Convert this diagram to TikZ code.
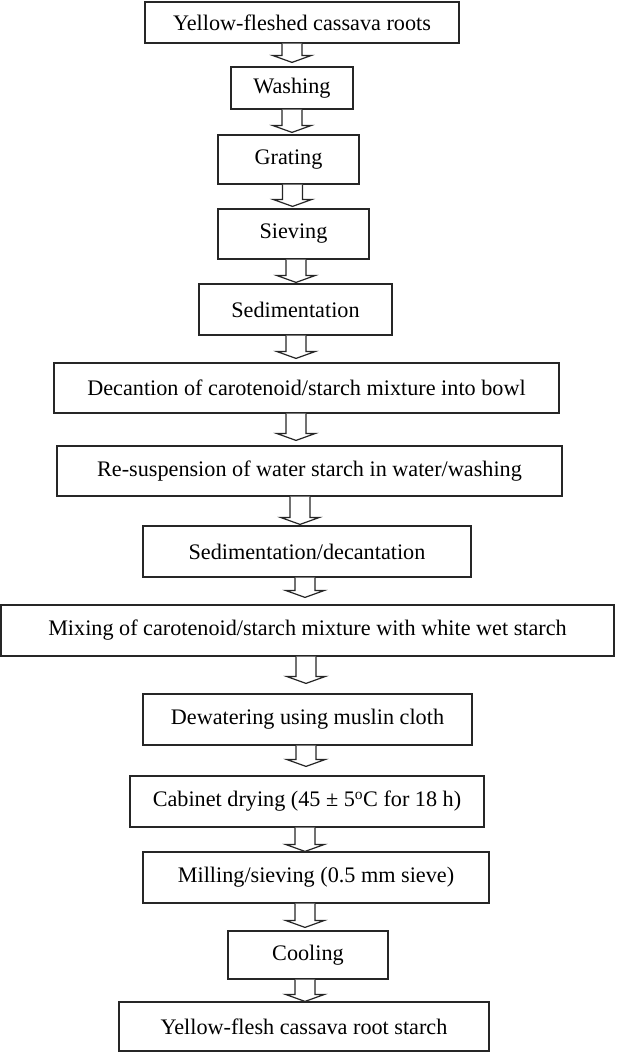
\documentclass[tikz,border=0pt]{standalone}
\usepackage{fontspec}
\setmainfont{Liberation Serif}
\usetikzlibrary{calc}
\tikzset{
  box/.style={draw=black!85, line width=1.2pt, rectangle, inner sep=0pt, font=\fontsize{22.2}{25}\selectfont, text=black},
  blockarr/.style={draw=black!85, line width=1.2pt, fill=white, line join=miter},
}
% #1 upper node, #2 lower node, #3 x centre (pt), #4 gap between tip and lower node (pt)
\newcommand\blockarrow[4]{%
  \draw[blockarr] let \p1=(#1.south), \p2=(#2.north) in
    ({#3pt-10pt},{\y1}) -- ({#3pt-10pt},{\y2+#4pt+7pt}) -- ({#3pt-19.5pt},{\y2+#4pt+7pt})
    -- ({#3pt},{\y2+#4pt}) -- ({#3pt+19.5pt},{\y2+#4pt+7pt}) -- ({#3pt+10pt},{\y2+#4pt+7pt})
    -- ({#3pt+10pt},{\y1});
}
\begin{document}
\begin{tikzpicture}[x=1pt,y=-1pt]
\useasboundingbox (0,0) rectangle (617,1053);
\node[box, minimum width=314pt, minimum height=41pt] (n1) at (302,22.5) {Yellow-fleshed cassava roots};
\node[box, minimum width=122pt, minimum height=42pt] (n2) at (292,88) {Washing};
\node[box, minimum width=141pt, minimum height=49pt] (n3) at (288.5,159.5) {Grating};
\node[box, minimum width=151pt, minimum height=50pt] (n4) at (293.5,234) {Sieving};
\node[box, minimum width=193pt, minimum height=51pt] (n5) at (295.5,309.5) {Sedimentation};
\node[box, minimum width=505pt, minimum height=50pt] (n6) at (306.5,388) {Decantion of carotenoid/starch mixture into bowl};
\node[box, minimum width=505pt, minimum height=50pt] (n7) at (309.5,471) {Re-suspension of water starch in water/washing};
\node[box, minimum width=328pt, minimum height=51pt] (n8) at (307,551.5) {Sedimentation/decantation};
\node[box, minimum width=613pt, minimum height=51pt] (n9) at (307.5,630.5) {Mixing of carotenoid/starch mixture with white wet starch};
\node[box, minimum width=329pt, minimum height=51pt] (n10) at (307.5,719.5) {Dewatering using muslin cloth};
\node[box, minimum width=354pt, minimum height=51pt] (n11) at (307,801.5) {Cabinet drying (45 ± 5\textsuperscript{o}C for 18 h)};
\node[box, minimum width=346pt, minimum height=51pt] (n12) at (316,877.5) {Milling/sieving (0.5 mm sieve)};
\node[box, minimum width=160pt, minimum height=48pt] (n13) at (308,955) {Cooling};
\node[box, minimum width=370pt, minimum height=49pt] (n14) at (304,1026.5) {Yellow-flesh cassava root starch};

\blockarrow{n1}{n2}{292}{4}
\blockarrow{n2}{n3}{292}{2}
\blockarrow{n3}{n4}{292.5}{2}
\blockarrow{n4}{n5}{296}{1}
\blockarrow{n5}{n6}{296}{4}
\blockarrow{n6}{n7}{296}{5}
\blockarrow{n7}{n8}{300}{1}
\blockarrow{n8}{n9}{305}{7}
\blockarrow{n9}{n10}{306}{10}
\blockarrow{n10}{n11}{306}{9}
\blockarrow{n11}{n12}{305}{0}
\blockarrow{n12}{n13}{305}{3}
\blockarrow{n13}{n14}{305}{0}
\end{tikzpicture}
\end{document}
